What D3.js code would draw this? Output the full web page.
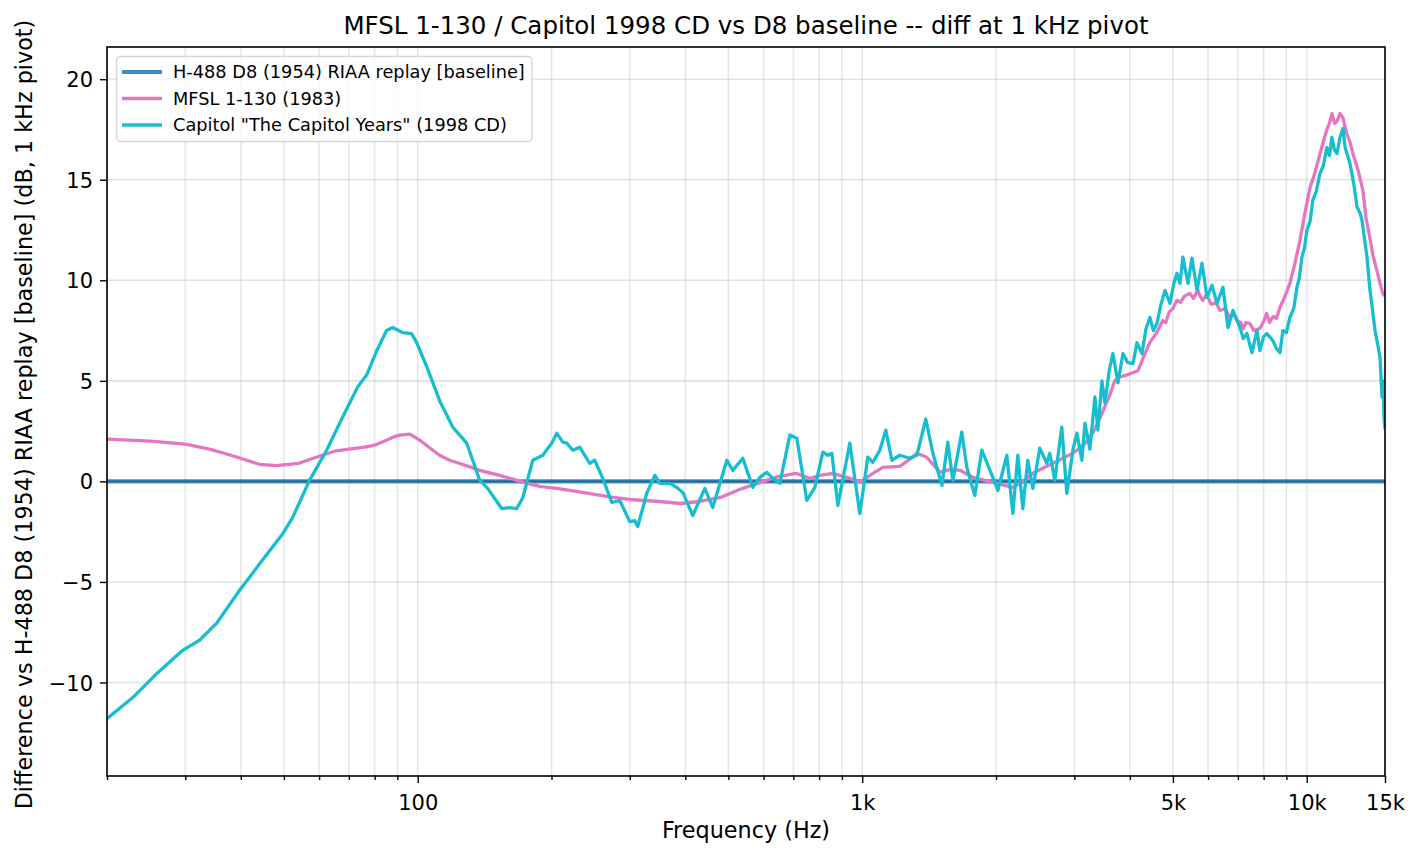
<!DOCTYPE html>
<html>
<head>
<meta charset="utf-8">
<script src="https://cdn.jsdelivr.net/npm/d3@7"></script>
<style>
  body { margin: 0; background: #ffffff; }
  text { font-family: "DejaVu Sans", sans-serif; }
</style>
</head>
<body>
<svg id="chart"></svg>
<script>
// Series names (legend order)
const seriesNames = [
    "H-488 D8 (1954) RIAA replay [baseline]",
    "MFSL 1-130 (1983)",
    "Capitol \"The Capitol Years\" (1998 CD)"
];

// [frequency Hz, difference dB]
const baselinePoints = [[20, 0], [15000, 0]];

const mfslPoints = [
    [20, 2.1], [25, 2.0], [30, 1.85], [34, 1.6], [38, 1.3], [44, 0.85], [48, 0.78], [54, 0.9],
    [60, 1.25], [65, 1.5], [70, 1.6], [76, 1.7], [80, 1.8], [84, 2.0], [88, 2.2], [91, 2.3],
    [96, 2.35], [101, 2.05], [106, 1.7], [112, 1.3], [118, 1.05], [124, 0.9], [138, 0.55],
    [153, 0.3], [170, 0.0], [188, -0.25], [205, -0.35], [220, -0.45], [250, -0.65], [275, -0.8],
    [300, -0.9], [350, -1.0], [390, -1.1], [430, -1.0], [480, -0.8], [530, -0.4], [590, -0.05],
    [650, 0.25], [710, 0.4], [762, 0.15], [803, 0.3], [859, 0.4], [938, 0.15], [988, -0.05],
    [1040, 0.3], [1112, 0.7], [1215, 0.75], [1280, 1.1], [1327, 1.4], [1397, 1.2], [1450, 0.8],
    [1495, 0.45], [1580, 0.6], [1659, 0.55], [1774, 0.2], [1967, -0.05], [2182, -0.3], [2300, 0.0],
    [2420, 0.4], [2684, 0.9], [2977, 1.4], [3150, 1.8], [3302, 2.4], [3450, 3.3], [3606, 4.3],
    [3700, 5.0], [3800, 5.2], [3950, 5.3], [4171, 5.5], [4300, 6.2], [4436, 6.9], [4600, 7.4],
    [4746, 8.0], [4820, 7.9], [4900, 8.4], [5000, 8.6], [5100, 9.0], [5200, 8.9], [5300, 9.2],
    [5459, 9.35], [5560, 9.1], [5690, 9.5], [5760, 9.2], [5836, 9.0], [5950, 9.3], [6100, 8.8],
    [6250, 8.9], [6377, 8.5], [6550, 8.6], [6700, 8.2], [6850, 8.3], [6966, 8.0], [7100, 7.9],
    [7200, 7.6], [7300, 7.9], [7447, 7.85], [7600, 7.5], [7845, 7.6], [7980, 7.9], [8128, 8.35],
    [8250, 7.9], [8400, 8.2], [8550, 8.1], [8703, 8.65], [8900, 9.1], [9164, 9.85], [9400, 10.8],
    [9658, 12.0], [9900, 13.3], [10170, 14.6], [10450, 15.4], [10714, 16.3], [10900, 16.9],
    [11100, 17.5], [11250, 17.8], [11400, 18.3], [11550, 17.8], [11700, 17.9], [11880, 18.3],
    [12055, 18.1], [12300, 17.3], [12500, 16.9], [12700, 16.3], [13000, 15.6], [13370, 14.5],
    [13600, 13.1], [13870, 12.1], [14100, 11.2], [14380, 10.5], [14600, 9.9], [14830, 9.35],
    [15000, 9.2]
];

const capitolPoints = [
    [20, -11.8], [22.85, -10.75], [25.9, -9.55], [29.6, -8.4], [32.3, -7.9], [35.3, -7.05],
    [39.8, -5.4], [44.1, -4.1], [49.7, -2.6], [52.3, -1.8], [57.1, 0.05], [62.4, 1.55],
    [67.8, 3.2], [73.3, 4.7], [76.8, 5.3], [80.9, 6.5], [85.1, 7.5], [87.8, 7.65], [92.5, 7.4],
    [96.9, 7.35], [99.5, 6.9], [104.8, 5.7], [112.1, 4.0], [119.9, 2.7], [128.9, 1.9],
    [137.9, 0.05], [143.7, -0.35], [154.5, -1.35], [161.1, -1.3], [167.1, -1.35], [172.4, -0.8],
    [181.5, 1.05], [191.1, 1.3], [200.2, 1.9], [205.5, 2.4], [212, 1.95], [216.4, 1.9],
    [223.3, 1.55], [231.5, 1.7], [243.8, 0.9], [250.2, 1.05], [260.8, 0.15], [273.3, -1.05],
    [284.9, -0.95], [299.9, -2.0], [307.8, -1.95], [312.6, -2.25], [327.5, -0.6], [341.5, 0.3],
    [350.5, -0.1], [369.1, -0.1], [382.7, -0.3], [394.8, -0.55], [415.8, -1.7], [442.5, -0.35],
    [461.2, -1.3], [495.9, 1.05], [511.6, 0.55], [538.8, 1.15], [567.5, -0.3], [588.4, 0.2],
    [610.1, 0.45], [629.4, 0.15], [652.6, -0.1], [687.3, 2.3], [712.7, 2.15], [750.6, -0.95],
    [782.4, -0.3], [815.6, 1.45], [837, 1.3], [854.5, 1.4], [881.4, -1.2], [937.8, 1.9],
    [987.6, -1.6], [1029.5, 1.2], [1056.6, 0.95], [1095.5, 1.55], [1130, 2.55], [1166, 1.05],
    [1215, 1.3], [1280, 1.15], [1327, 1.3], [1390, 3.1], [1442, 1.4], [1511, -0.2], [1558, 1.95],
    [1599, 0.05], [1675, 2.45], [1719, 0.7], [1792, -0.7], [1858, 1.55], [1967, 0.2],
    [2019, -0.45], [2115, 1.3], [2182, -1.6], [2239, 1.3], [2298, -1.35], [2358, 1.05],
    [2421, -0.35], [2509, 1.65], [2602, 0.9], [2643, 1.4], [2712, 0.05], [2812, 2.7],
    [2886, -0.6], [2978, 1.55], [3040, 2.4], [3120, 1.05], [3170, 2.9], [3253, 1.6], [3338, 4.2],
    [3390, 2.55], [3461, 5.0], [3516, 3.9], [3600, 5.6], [3664, 6.35], [3761, 4.9], [3860, 6.35],
    [3960, 5.9], [4065, 5.85], [4150, 6.9], [4259, 6.35], [4350, 7.6], [4439, 8.15], [4520, 7.5],
    [4603, 7.85], [4700, 8.8], [4798, 9.5], [4924, 8.85], [5020, 9.8], [5105, 10.35], [5185, 9.85],
    [5266, 11.15], [5405, 9.85], [5518, 11.1], [5663, 9.5], [5812, 10.85], [5965, 9.15],
    [6121, 9.75], [6281, 8.85], [6479, 9.65], [6650, 7.65], [6825, 8.5], [7075, 7.65], [7200, 7.1],
    [7336, 7.35], [7529, 6.4], [7727, 7.5], [7848, 6.5], [8000, 7.2], [8136, 7.35], [8393, 7.0],
    [8550, 6.6], [8703, 6.4], [8840, 7.5], [9000, 7.4], [9167, 8.15], [9350, 8.6], [9504, 9.65],
    [9620, 10.1], [9754, 11.15], [9880, 11.6], [10010, 12.5], [10170, 12.9], [10325, 14.0],
    [10500, 14.4], [10708, 15.3], [10900, 15.7], [11100, 16.6], [11250, 16.2], [11392, 17.1],
    [11540, 16.5], [11695, 16.3], [11878, 17.1], [12065, 17.55], [12200, 16.6], [12317, 16.3],
    [12480, 15.9], [12640, 15.3], [12800, 14.6], [12973, 13.65], [13150, 13.4], [13314, 13.0],
    [13500, 12.0], [13664, 11.15], [13878, 9.5], [14050, 8.6], [14243, 7.5], [14450, 6.8],
    [14618, 6.15], [14770, 4.2], [14850, 5.0], [14923, 3.2], [15000, 2.6]
];

// Tick values and labels
const xMajorTicks = [100, 1000, 5000, 10000, 15000];
const xMajorLabels = ["100", "1k", "5k", "10k", "15k"];
const xMinorTicks = [20, 30, 40, 50, 60, 70, 80, 90, 200, 300, 400, 500, 600, 700, 800, 900,
    2000, 3000, 4000, 6000, 7000, 8000, 9000];
const yTicks = [-10, -5, 0, 5, 10, 15, 20];

// Colours per series
const seriesColors = ["#1f77b4", "#e377c2", "#17becf"];

// SVG size and plot box
const width = 1421;
const height = 858;
const margin = { top: 47, right: 36, bottom: 82, left: 107 };

const svg = d3.select("#chart")
    .attr("width", width)
    .attr("height", height);

svg.append("rect")
    .attr("width", width)
    .attr("height", height)
    .attr("fill", "#ffffff");

const xScale = d3.scaleLog()
    .domain([20, 15000])
    .range([margin.left, width - margin.right]);

const yScale = d3.scaleLinear()
    .domain([-14.65, 21.6])
    .range([height - margin.bottom, margin.top]);

const plotTop = margin.top;
const plotBottom = height - margin.bottom;
const plotLeft = margin.left;
const plotRight = width - margin.right;

// Grid lines
const grid = svg.append("g").attr("class", "grid");
grid.selectAll(".vgrid")
    .data(xMinorTicks.concat(xMajorTicks))
    .enter()
    .append("line")
    .attr("x1", d => xScale(d))
    .attr("x2", d => xScale(d))
    .attr("y1", plotTop)
    .attr("y2", plotBottom)
    .attr("stroke", "#b0b0b0")
    .attr("stroke-opacity", 0.3)
    .attr("stroke-width", 1.6);

grid.selectAll(".hgrid")
    .data(yTicks)
    .enter()
    .append("line")
    .attr("x1", plotLeft)
    .attr("x2", plotRight)
    .attr("y1", d => yScale(d))
    .attr("y2", d => yScale(d))
    .attr("stroke", "#b0b0b0")
    .attr("stroke-opacity", 0.35)
    .attr("stroke-width", 1.6);

// Clip the curves to the plot box
svg.append("clipPath")
    .attr("id", "plot-clip")
    .append("rect")
    .attr("x", plotLeft)
    .attr("y", plotTop)
    .attr("width", plotRight - plotLeft)
    .attr("height", plotBottom - plotTop);

const lineGen = d3.line()
    .x(d => xScale(d[0]))
    .y(d => yScale(d[1]));

const curves = svg.append("g").attr("clip-path", "url(#plot-clip)");

// Baseline
curves.append("path")
    .datum(baselinePoints)
    .attr("d", lineGen)
    .attr("fill", "none")
    .attr("stroke", seriesColors[0])
    .attr("stroke-opacity", 0.85)
    .attr("stroke-width", 4.2);

// zero reference line
curves.append("line")
    .attr("x1", plotLeft)
    .attr("x2", plotRight)
    .attr("y1", yScale(0))
    .attr("y2", yScale(0))
    .attr("stroke", "#222222")
    .attr("stroke-opacity", 0.45)
    .attr("stroke-width", 1.2);

curves.append("path")
    .datum(mfslPoints)
    .attr("d", lineGen)
    .attr("fill", "none")
    .attr("stroke", seriesColors[1])
    .attr("stroke-width", 3.3)
    .attr("stroke-linejoin", "round");

curves.append("path")
    .datum(capitolPoints)
    .attr("d", lineGen)
    .attr("fill", "none")
    .attr("stroke", seriesColors[2])
    .attr("stroke-width", 3.3)
    .attr("stroke-linejoin", "round");

// X axis: major ticks with labels, minor ticks without
const xAxisMajor = svg.append("g")
    .attr("transform", `translate(0,${plotBottom})`)
    .call(d3.axisBottom(xScale)
        .tickValues(xMajorTicks)
        .tickFormat((d, i) => xMajorLabels[i])
        .tickSize(7)
        .tickPadding(7));

const xAxisMinor = svg.append("g")
    .attr("transform", `translate(0,${plotBottom})`)
    .call(d3.axisBottom(xScale)
        .tickValues(xMinorTicks)
        .tickFormat("")
        .tickSize(4));

const yAxis = svg.append("g")
    .attr("transform", `translate(${plotLeft},0)`)
    .call(d3.axisLeft(yScale)
        .tickValues(yTicks)
        .tickFormat(d => (d < 0 ? "\u2212" + Math.abs(d) : String(d)))
        .tickSize(7)
        .tickPadding(7));

[xAxisMajor, xAxisMinor, yAxis].forEach(g => {
    g.select(".domain").remove();
    g.selectAll(".tick line").attr("stroke", "#000").attr("stroke-width", 1.4);
    g.selectAll(".tick text")
        .attr("fill", "#000")
        .style("font-size", "21px")
        .style("font-family", "DejaVu Sans");
});
xAxisMajor.selectAll(".tick text").attr("dy", 0).attr("y", 34);
yAxis.selectAll(".tick text").attr("dy", "0.36em");

// Spines
svg.append("rect")
    .attr("x", plotLeft)
    .attr("y", plotTop)
    .attr("width", plotRight - plotLeft)
    .attr("height", plotBottom - plotTop)
    .attr("fill", "none")
    .attr("stroke", "#000")
    .attr("stroke-width", 1.6);

// Title
svg.append("text")
    .attr("x", (plotLeft + plotRight) / 2)
    .attr("y", 34)
    .attr("text-anchor", "middle")
    .style("font-size", "24.5px")
    .text("MFSL 1-130 / Capitol 1998 CD vs D8 baseline -- diff at 1 kHz pivot");

// X axis label
svg.append("text")
    .attr("x", (plotLeft + plotRight) / 2)
    .attr("y", 838)
    .attr("text-anchor", "middle")
    .style("font-size", "22.3px")
    .text("Frequency (Hz)");

// Y axis label
svg.append("text")
    .attr("transform", `translate(32,${(plotTop + plotBottom) / 2 + 3}) rotate(-90)`)
    .attr("text-anchor", "middle")
    .style("font-size", "22.3px")
    .text("Difference vs H-488 D8 (1954) RIAA replay [baseline] (dB, 1 kHz pivot)");

// Legend
const legend = svg.append("g").attr("class", "legend");
legend.append("rect")
    .attr("x", 116.5)
    .attr("y", 56.5)
    .attr("width", 415.5)
    .attr("height", 85)
    .attr("rx", 4)
    .attr("fill", "#ffffff")
    .attr("fill-opacity", 0.8)
    .attr("stroke", "#d6d6d6")
    .attr("stroke-width", 1.4);

const legendRows = [72, 98.5, 125];
seriesNames.forEach((name, i) => {
    legend.append("line")
        .attr("x1", 122)
        .attr("x2", 162)
        .attr("y1", legendRows[i])
        .attr("y2", legendRows[i])
        .attr("stroke", seriesColors[i])
        .attr("stroke-opacity", i === 0 ? 0.85 : 1)
        .attr("stroke-width", i === 0 ? 4.2 : 3.3);
    legend.append("text")
        .attr("x", 173)
        .attr("y", legendRows[i])
        .attr("dy", "0.36em")
        .style("font-size", "17.75px")
        .text(name);
});
</script>
</body>
</html>
